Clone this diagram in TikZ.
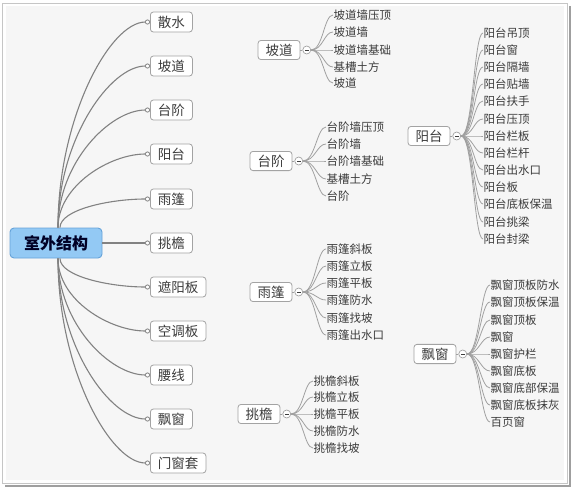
\documentclass[tikz,border=0pt]{standalone}
\usepackage{fontspec}
\usepackage{xcolor}
\usetikzlibrary{arrows.meta, positioning}
\newfontfamily\cjk{Noto Sans CJK SC}
\definecolor{rootfill}{HTML}{93C9F4}
\definecolor{rootline}{HTML}{66A3D9}
\definecolor{linkgray}{HTML}{828282}
\definecolor{twiggray}{HTML}{A0A0A0}
\definecolor{boxgray}{HTML}{A3A3A3}
\definecolor{textgray}{HTML}{3C3C3C}

\begin{document}
\begin{tikzpicture}[
  x=1pt, y=-1pt,
  every node/.style = {font=\cjk, text=textgray},
  rootbox/.style = {draw=rootline, fill=rootfill, rounded corners=4pt, line width=0.9pt, minimum width=92pt, minimum height=30pt, font=\cjk\bfseries\fontsize{16}{16}\selectfont, text=black!85!blue},
  topic/.style = {draw=boxgray, fill=white, rounded corners=3pt, line width=0.8pt, minimum height=20pt, inner xsep=7.5pt, font=\cjk\fontsize{13.5}{14}\selectfont, anchor=west},
  group/.style = {draw=boxgray, fill=white, rounded corners=3pt, line width=0.8pt, minimum height=19pt, inner xsep=7.5pt, font=\cjk\fontsize{13.5}{14}\selectfont},
  fold/.style = {draw=boxgray, fill=white, circle, inner sep=0pt, minimum size=8pt, line width=0.7pt},
  leaf/.style = {anchor=west, inner sep=0.5pt, font=\cjk\fontsize{11.5}{12}\selectfont},
  link/.style = {draw=linkgray, line width=1.1pt, -{Circle[length=5pt, fill=white, line width=0.8pt]}},
  twig/.style = {draw=twiggray, line width=0.8pt}
]
  \useasboundingbox (0,0) rectangle (574,488);
  \draw[gray!45, line width=1pt] (2.5,3.5) rectangle (567.5,483.5);
  \draw[gray!75, line width=2pt] (569.5,6) -- (569.5,485.5) -- (5,485.5);
  \fill[gray!7] (6,6) rectangle (564,480);

  \node[rootbox] (root) at (56,243) {室外结构};

  \node[topic] (sanshui) at (150,22) {散水};
  \node[topic] (podao) at (150,66) {坡道};
  \node[topic] (taijie) at (150,110) {台阶};
  \node[topic] (yangtai) at (150,154) {阳台};
  \node[topic] (yupeng) at (150,199) {雨篷};
  \node[topic] (tiaoyan) at (150,243) {挑檐};
  \node[topic] (zheyangban) at (150,287) {遮阳板};
  \node[topic] (kongtiaoban) at (150,331) {空调板};
  \node[topic] (yaoxian) at (150,375) {腰线};
  \node[topic] (piaochuang) at (150,419) {飘窗};
  \node[topic] (menchuangtao) at (150,463) {门窗套};

  \draw[link] ([xshift=2pt]root.north) .. controls +(0,-110) and +(-40,0) .. (sanshui.west);
  \draw[link] ([xshift=2pt]root.north) .. controls +(0,-88) and +(-40,0) .. (podao.west);
  \draw[link] ([xshift=2pt]root.north) .. controls +(0,-65) and +(-40,0) .. (taijie.west);
  \draw[link] ([xshift=2pt]root.north) .. controls +(0,-42) and +(-40,0) .. (yangtai.west);
  \draw[link] ([xshift=4pt]root.north) .. controls +(0,-18) and +(-40,0) .. (yupeng.west);
  \draw[link] (root.east) -- (tiaoyan.west);
  \draw[link] ([xshift=4pt]root.south) .. controls +(0,18) and +(-40,0) .. (zheyangban.west);
  \draw[link] ([xshift=2pt]root.south) .. controls +(0,42) and +(-40,0) .. (kongtiaoban.west);
  \draw[link] ([xshift=2pt]root.south) .. controls +(0,65) and +(-40,0) .. (yaoxian.west);
  \draw[link] ([xshift=2pt]root.south) .. controls +(0,88) and +(-40,0) .. (piaochuang.west);
  \draw[link] ([xshift=2pt]root.south) .. controls +(0,110) and +(-40,0) .. (menchuangtao.west);

  \node[group] (podaoG) at (279,50) {坡道};
  \node[fold, right=2pt of podaoG] (podaoF) {\rule{3.5pt}{0.7pt}};
  \node[leaf] (podao1) at (333,15) {坡道墙压顶};
  \node[leaf] (podao2) at (333,32) {坡道墙};
  \node[leaf] (podao3) at (333,50) {坡道墙基础};
  \node[leaf] (podao4) at (333,67) {基槽土方};
  \node[leaf] (podao5) at (333,83) {坡道};

  \node[group] (taijieG) at (271,161) {台阶};
  \node[fold, right=2pt of taijieG] (taijieF) {\rule{3.5pt}{0.7pt}};
  \node[leaf] (taijie1) at (326,127) {台阶墙压顶};
  \node[leaf] (taijie2) at (326,144) {台阶墙};
  \node[leaf] (taijie3) at (326,161) {台阶墙基础};
  \node[leaf] (taijie4) at (326,179) {基槽土方};
  \node[leaf] (taijie5) at (326,196) {台阶};

  \node[group] (yupengG) at (271,292) {雨篷};
  \node[fold, right=2pt of yupengG] (yupengF) {\rule{3.5pt}{0.7pt}};
  \node[leaf] (yupeng1) at (326,249) {雨篷斜板};
  \node[leaf] (yupeng2) at (326,266) {雨篷立板};
  \node[leaf] (yupeng3) at (326,283) {雨篷平板};
  \node[leaf] (yupeng4) at (326,300) {雨篷防水};
  \node[leaf] (yupeng5) at (326,318) {雨篷找坡};
  \node[leaf] (yupeng6) at (326,335) {雨篷出水口};

  \node[group] (tiaoyanG) at (259,414) {挑檐};
  \node[fold, right=2pt of tiaoyanG] (tiaoyanF) {\rule{3.5pt}{0.7pt}};
  \node[leaf] (tiaoyan1) at (313,381) {挑檐斜板};
  \node[leaf] (tiaoyan2) at (313,397) {挑檐立板};
  \node[leaf] (tiaoyan3) at (313,414) {挑檐平板};
  \node[leaf] (tiaoyan4) at (313,431) {挑檐防水};
  \node[leaf] (tiaoyan5) at (313,448) {挑檐找坡};

  \node[group] (yangtaiG) at (429,136) {阳台};
  \node[fold, right=2pt of yangtaiG] (yangtaiF) {\rule{3.5pt}{0.7pt}};
  \node[leaf] (yangtai1) at (483,33) {阳台吊顶};
  \node[leaf] (yangtai2) at (483,50) {阳台窗};
  \node[leaf] (yangtai3) at (483,67) {阳台隔墙};
  \node[leaf] (yangtai4) at (483,84) {阳台贴墙};
  \node[leaf] (yangtai5) at (483,101) {阳台扶手};
  \node[leaf] (yangtai6) at (483,119) {阳台压顶};
  \node[leaf] (yangtai7) at (483,136) {阳台栏板};
  \node[leaf] (yangtai8) at (483,153) {阳台栏杆};
  \node[leaf] (yangtai9) at (483,170) {阳台出水口};
  \node[leaf] (yangtai10) at (483,187) {阳台板};
  \node[leaf] (yangtai11) at (483,204) {阳台底板保温};
  \node[leaf] (yangtai12) at (483,222) {阳台挑梁};
  \node[leaf] (yangtai13) at (483,239) {阳台封梁};

  \node[group] (piaochuangG) at (435,354) {飘窗};
  \node[fold, right=2pt of piaochuangG] (piaochuangF) {\rule{3.5pt}{0.7pt}};
  \node[leaf] (piaochuang1) at (490,285) {飘窗顶板防水};
  \node[leaf] (piaochuang2) at (490,302) {飘窗顶板保温};
  \node[leaf] (piaochuang3) at (490,320) {飘窗顶板};
  \node[leaf] (piaochuang4) at (490,337) {飘窗};
  \node[leaf] (piaochuang5) at (490,354) {飘窗护栏};
  \node[leaf] (piaochuang6) at (490,371) {飘窗底板};
  \node[leaf] (piaochuang7) at (490,388) {飘窗底部保温};
  \node[leaf] (piaochuang8) at (490,405) {飘窗底板抹灰};
  \node[leaf] (piaochuang9) at (490,422) {百页窗};

  \draw[twig] (podaoG) -- (podaoF);
  \draw[twig] (taijieG) -- (taijieF);
  \draw[twig] (yupengG) -- (yupengF);
  \draw[twig] (tiaoyanG) -- (tiaoyanF);
  \draw[twig] (yangtaiG) -- (yangtaiF);
  \draw[twig] (piaochuangG) -- (piaochuangF);
  \foreach \i in {1,...,5}
    \draw[twig] (podaoF.east) .. controls +(12,0) and +(-9,0) .. (podao\i.west);
  \foreach \i in {1,...,5}
    \draw[twig] (taijieF.east) .. controls +(12,0) and +(-9,0) .. (taijie\i.west);
  \foreach \i in {1,...,6}
    \draw[twig] (yupengF.east) .. controls +(12,0) and +(-9,0) .. (yupeng\i.west);
  \foreach \i in {1,...,5}
    \draw[twig] (tiaoyanF.east) .. controls +(12,0) and +(-9,0) .. (tiaoyan\i.west);
  \foreach \i in {1,...,13}
    \draw[twig] (yangtaiF.east) .. controls +(12,0) and +(-9,0) .. (yangtai\i.west);
  \foreach \i in {1,...,9}
    \draw[twig] (piaochuangF.east) .. controls +(12,0) and +(-9,0) .. (piaochuang\i.west);
\end{tikzpicture}
\end{document}
